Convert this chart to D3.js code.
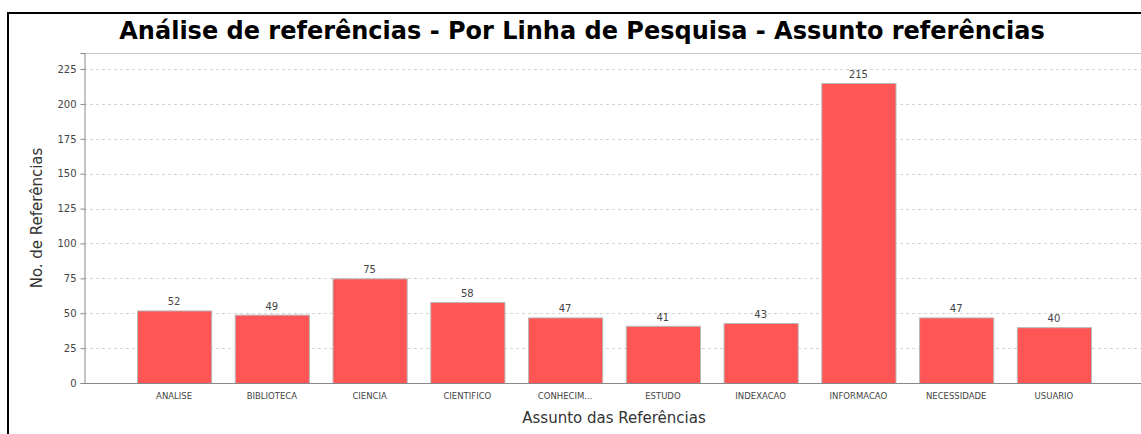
<!DOCTYPE html>
<html><head><meta charset="utf-8">
<script src="https://cdn.jsdelivr.net/npm/d3@7/dist/d3.min.js"></script>
<style>html,body{margin:0;padding:0;background:#fff;overflow:hidden}</style>
</head><body>
<svg id="c" width="1141" height="434"></svg>
<script>
const categories = ["ANALISE","BIBLIOTECA","CIENCIA","CIENTIFICO","CONHECIM...","ESTUDO","INDEXACAO","INFORMACAO","NECESSIDADE","USUARIO"];
const values = [52,49,75,58,47,41,43,215,47,40];
const yTicks = [0,25,50,75,100,125,150,175,200,225];
const title = "Análise de referências - Por Linha de Pesquisa - Assunto referências";
const xTitle = "Assunto das Referências";
const yTitle = "No. de Referências";

const svg = d3.select("#c");
const plot = {left:84, right:1144, top:53, bottom:383};

// frame
svg.append("line").attr("x1",8).attr("x2",8).attr("y1",12).attr("y2",434).attr("stroke","#000").attr("stroke-width",2);
svg.append("line").attr("x1",7).attr("x2",1141).attr("y1",13).attr("y2",13).attr("stroke","#000").attr("stroke-width",2);

const y = d3.scaleLinear().domain([0,236.5]).range([plot.bottom, plot.top]);
const pw = plot.right-plot.left;
const x = d3.scaleBand().domain(categories)
  .range([plot.left+0.05*pw, plot.right-0.05*pw])
  .paddingInner(0.2414).paddingOuter(0);

// gridlines
svg.append("g").selectAll("line").data(yTicks.filter(d=>d>0)).join("line")
  .attr("x1",plot.left).attr("x2",plot.right)
  .attr("y1",d=>Math.round(y(d))+0.5).attr("y2",d=>Math.round(y(d))+0.5)
  .attr("stroke","#d4d4d4").attr("stroke-dasharray","3,3");
// top edge
svg.append("line").attr("x1",plot.left).attr("x2",plot.right).attr("y1",plot.top+0.5).attr("y2",plot.top+0.5).attr("stroke","#c8c8c8");

// bars
svg.append("g").selectAll("rect").data(values).join("rect")
  .attr("x",(d,i)=>x(categories[i])+0.5)
  .attr("y",d=>y(d)+0.5)
  .attr("width",x.bandwidth())
  .attr("height",d=>y(0)-y(d))
  .attr("fill","#FF5555").attr("stroke","#b8b8b8").attr("stroke-width",1);

// value labels
svg.append("g").selectAll("text").data(values).join("text")
  .attr("x",(d,i)=>x(categories[i])+x.bandwidth()/2)
  .attr("y",d=>y(d)-5)
  .attr("text-anchor","middle")
  .attr("font-family","DejaVu Sans").attr("font-size",10).attr("fill","#444")
  .text(d=>d);

// y axis
const ya = svg.append("g").attr("transform",`translate(${plot.left+0.5},0)`)
  .call(d3.axisLeft(y).tickValues(yTicks).tickSize(4).tickPadding(4));
ya.select(".domain").attr("stroke","#888");
ya.selectAll(".tick line").attr("stroke","#888");
ya.selectAll("text").attr("font-family","DejaVu Sans").attr("font-size",10).attr("fill","#444");

// x axis
const xa = svg.append("g").attr("transform",`translate(0,${plot.bottom+0.5})`)
  .call(d3.axisBottom(x).tickSize(0).tickPadding(9));
xa.select(".domain").attr("d",`M${plot.left},0H${plot.right}`).attr("stroke","#888");
xa.selectAll("text").attr("font-family","DejaVu Sans").attr("font-size",8.5).attr("fill","#444");

// titles
svg.append("text").attr("x",582).attr("y",39).attr("text-anchor","middle")
  .attr("font-family","DejaVu Sans").attr("font-weight","bold").attr("font-size",24).attr("fill","#000")
  .text(title);
svg.append("text").attr("x",(plot.left+plot.right)/2).attr("y",423).attr("text-anchor","middle")
  .attr("font-family","DejaVu Sans").attr("font-size",15).attr("fill","#333")
  .text(xTitle);
svg.append("text").attr("transform",`translate(42,${(plot.top+plot.bottom)/2}) rotate(-90)`).attr("text-anchor","middle")
  .attr("font-family","DejaVu Sans").attr("font-size",15).attr("fill","#333")
  .text(yTitle);
</script>
</body></html>
